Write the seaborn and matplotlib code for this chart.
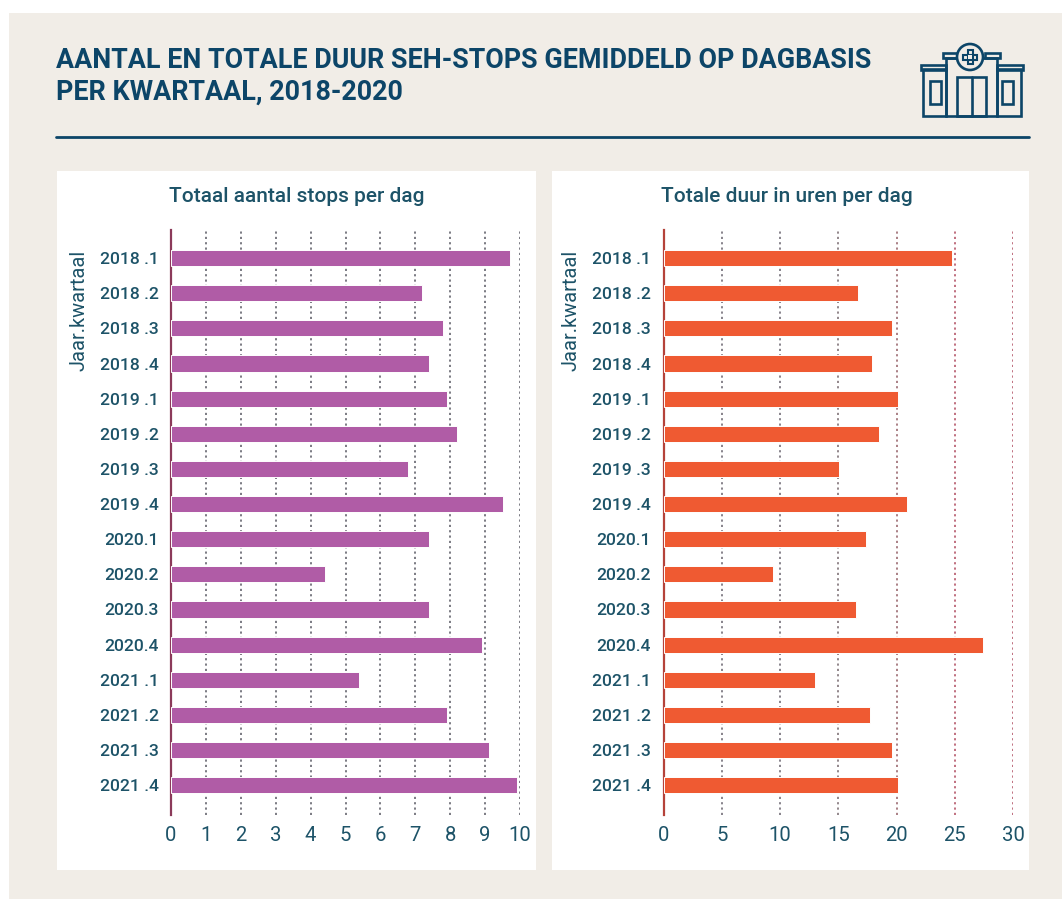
import matplotlib
matplotlib.use("Agg")
import matplotlib.pyplot as plt
from matplotlib.patches import Rectangle, Circle
import seaborn as sns
import pandas as pd

categories = ["2018 .1", "2018 .2", "2018 .3", "2018 .4", "2019 .1", "2019 .2", "2019 .3", "2019 .4",
              "2020.1", "2020.2", "2020.3", "2020.4", "2021 .1", "2021 .2", "2021 .3", "2021 .4"]
stops = [9.7, 7.2, 7.8, 7.4, 7.9, 8.2, 6.8, 9.5, 7.4, 4.4, 7.4, 8.9, 5.4, 7.9, 9.1, 9.9]
hours = [24.8, 16.7, 19.6, 17.9, 20.1, 18.5, 15.1, 20.9, 17.4, 9.4, 16.5, 27.4, 13.0, 17.7, 19.6, 20.1]
title_lines = ["AANTAL EN TOTALE DUUR SEH-STOPS GEMIDDELD OP DAGBASIS", "PER KWARTAAL, 2018-2020"]
left_title = "Totaal aantal stops per dag"
right_title = "Totale duur in uren per dag"
ylabel = "Jaar.kwartaal"
left_ticks = list(range(0, 11))
right_ticks = list(range(0, 31, 5))

W, H = 1062, 899
NAVY = "#0c4568"
TEAL = "#1d5368"
sns.set_theme(style="white")
plt.rcParams["font.family"] = ["Roboto", "DejaVu Sans"]

fig = plt.figure(figsize=(W / 100, H / 100), dpi=100, facecolor="white")

# pixel-space decoration layer
bg = fig.add_axes([0, 0, 1, 1], zorder=0)
bg.set_xlim(0, W); bg.set_ylim(H, 0); bg.axis("off")
bg.add_patch(Rectangle((9, 13), W - 9, H - 13, fc="#f1ede7", ec="none"))
bg.add_patch(Rectangle((57, 171), 479, 699, fc="white", ec="none"))
bg.add_patch(Rectangle((552, 171), 477, 699, fc="white", ec="none"))
bg.plot([56, 1029], [137, 137], color=NAVY, lw=2)

def box(x0, y0, x1, y1):
    bg.add_patch(Rectangle((x0, y0), x1 - x0, y1 - y0, fc="none", ec=NAVY, lw=1.9))

box(923, 69, 946, 116); box(997, 69, 1021, 116)
box(921, 65, 946, 70); box(997, 65, 1023, 70)
box(946, 58, 997, 116)
box(943, 53, 958, 58); box(985, 53, 1000, 58)
box(930, 81, 941, 104); box(1002, 81, 1013, 104)
box(957, 77, 986, 116)
bg.plot([971.5, 971.5], [77, 116], color=NAVY, lw=1.9)
bg.add_patch(Circle((970, 57), 13, fc="#f1ede7", ec=NAVY, lw=1.9, zorder=5))
bg.add_patch(Rectangle((963, 54.5), 14, 5, fc="none", ec=NAVY, lw=1.5, zorder=6))
bg.add_patch(Rectangle((967.5, 50), 5, 14, fc="none", ec=NAVY, lw=1.5, zorder=6))
bg.add_patch(Rectangle((968.3, 55.3), 3.4, 3.4, fc="#f1ede7", ec="none", zorder=7))

fig.text(56 / W, 1 - 60 / H, title_lines[0], color=NAVY, fontsize=19.4, fontweight="bold", va="center", ha="left")
fig.text(56 / W, 1 - 92 / H, title_lines[1], color=NAVY, fontsize=19.4, fontweight="bold", va="center", ha="left")
fig.text(297 / W, 1 - 197 / H, left_title, color=TEAL, fontsize=15, ha="center", va="center", fontweight="medium")
fig.text(787 / W, 1 - 197 / H, right_title, color=TEAL, fontsize=15, ha="center", va="center", fontweight="medium")


def panel(x0, x1, values, ticks, color, grid_colors, lab_x):
    ax = fig.add_axes([x0 / W, 1 - 815 / H, (x1 - x0) / W, (815 - 230) / H], zorder=2)
    ax.patch.set_alpha(0)
    df = pd.DataFrame({"q": categories, "v": values})
    for t, c in zip(ticks[1:], grid_colors):
        ax.axvline(t, color=c, lw=1.2, ls=(0, (1.3, 1.9)), alpha=0.85, zorder=0)
    sns.barplot(data=df, y="q", x="v", order=categories, color=color, width=0.46, saturation=1,
                edgecolor="white", linewidth=0.7, ax=ax, zorder=3)
    ax.set_xlim(ticks[0], ticks[-1])
    ax.set_ylim(15.85, -0.8)
    ax.set_xticks(ticks)
    ax.tick_params(axis="x", length=0, pad=8, labelsize=14.6, labelcolor=TEAL)
    ax.tick_params(axis="y", length=0, pad=9, labelsize=12.6, labelcolor=TEAL)
    for s in ["top", "right", "bottom"]:
        ax.spines[s].set_visible(False)
    ax.spines["left"].set_color("#8b3a5a" if color != "#ef5a32" else "#b5423a")
    ax.spines["left"].set_linewidth(1.6)
    ax.set_xlabel("")
    ax.set_ylabel("")
    for lab in ax.get_yticklabels():
        lab.set_fontweight("medium")
    fig.text(lab_x / W, 1 - 310 / H, ylabel, rotation=90, color=TEAL, fontsize=14.4, ha="center", va="center")
    return ax

panel(171, 520, stops, left_ticks, "#b05ca6", ["#4a4a55"] * 10, 79)
panel(663.5, 1013, hours, right_ticks, "#ef5a32", ["#5a5560", "#5a5560", "#6a5a60", "#8a5058", "#a83a50", "#a83a50"], 571)

fig.savefig("out.png", dpi=100, facecolor=fig.get_facecolor())
